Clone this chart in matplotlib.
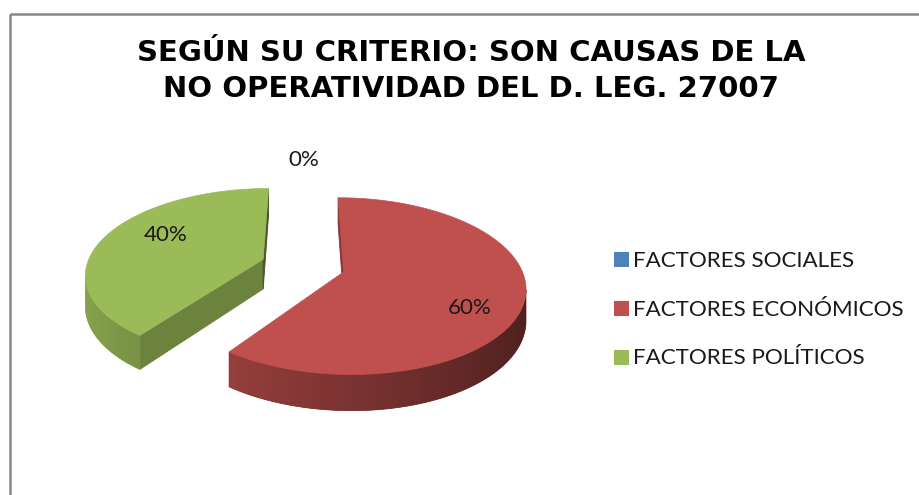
import numpy as np
import matplotlib
matplotlib.use("Agg")
import matplotlib.pyplot as plt
from matplotlib.patches import Polygon, Rectangle
from matplotlib.colors import to_rgb

# ---------------- data ----------------
title_lines = ["SEGÚN SU CRITERIO: SON CAUSAS DE LA",
               "NO OPERATIVIDAD DEL D. LEG. 27007"]
categories = ["FACTORES SOCIALES", "FACTORES ECONÓMICOS", "FACTORES POLÍTICOS"]
values = [0, 60, 40]
colors = ["#4F81BD", "#C0504D", "#9BBB59"]

# ---------------- layout / style ----------------
W, H = 919, 495
CX, CY = 303, 265.5          # pie centre (pixels)
A, B, K, T = 176.5, 84, 0.16, 30   # x radius, y radius, perspective, thickness
EXPLODE = 0.24
label_pos = [(304, 166), (470, 313.5), (166, 241)]   # baseline positions of % labels
LABEL_FONT = "Lato"
FS = 16.1

fig = plt.figure(figsize=(W / 100, H / 100), dpi=100)
ax = fig.add_axes([0, 0, 1, 1])

# chart border (left and top only visible)
ax.plot([9.5, 9.5], [14, H + 5], color="#868686", lw=1.8, solid_capstyle="butt")
ax.plot([9.5, W + 5], [14, 14], color="#868686", lw=1.8, solid_capstyle="butt")


def proj(X, Y, Z=0.0):
    w = 1 + K * Y
    return CX + A * X / w, CY - B * Y / w + T * Z / w


def shade(c, f):
    r, g, b = to_rgb(c)
    return np.array([r * f, g * f, b * f])


def signed_area(pts):
    pts = np.asarray(pts)
    x, y = pts[:, 0], pts[:, 1]
    return 0.5 * np.sum(x * np.roll(y, -1) - np.roll(x, -1) * y)


def side_factor(t):
    return 0.64 - 0.24 * np.sin(t)


total = float(sum(values))
start = 0.0
for val, col in zip(values, colors):
    span = 360.0 * val / total
    a0, a1 = start, start + span
    start = a1
    if span <= 0:
        continue
    mid = np.radians((a0 + a1) / 2)
    ox, oy = EXPLODE * np.sin(mid), EXPLODE * np.cos(mid)
    th = np.radians(np.linspace(a0, a1, max(int(span * 3), 4)))
    rx, ry = ox + np.sin(th), oy + np.cos(th)

    # radial faces
    for idx, is_start in ((0, True), (-1, False)):
        rim_t = proj(rx[idx], ry[idx], 0)
        rim_b = proj(rx[idx], ry[idx], 1)
        c_t = proj(ox, oy, 0)
        c_b = proj(ox, oy, 1)
        quad = [c_t, rim_t, rim_b, c_b] if is_start else [rim_t, c_t, c_b, rim_b]
        if signed_area(quad) < 0:
            fc = shade(col, 0.70 if is_start else 0.45)
            ax.add_patch(Polygon(quad, closed=True, facecolor=fc, edgecolor=fc,
                                 lw=0.6, zorder=2))

    # outer side: visible segment, filled with a horizontal gradient
    vis = []
    for j in range(len(th) - 1):
        quad = [proj(rx[j], ry[j], 0), proj(rx[j + 1], ry[j + 1], 0),
                proj(rx[j + 1], ry[j + 1], 1), proj(rx[j], ry[j], 1)]
        vis.append(signed_area(quad) < 0)
    vis = np.array(vis)
    if vis.any():
        idxs = np.where(vis)[0]
        i0, i1 = idxs.min(), idxs.max() + 1
        tv = th[i0:i1 + 1]
        topp = np.array([proj(rx[j], ry[j], 0) for j in range(i0, i1 + 1)])
        botp = np.array([proj(rx[j], ry[j], 1) for j in range(i0, i1 + 1)])
        poly = np.vstack([topp, botp[::-1]])
        fmid = side_factor(tv.mean())
        patch = Polygon(poly, closed=True, facecolor=shade(col, fmid),
                        edgecolor=shade(col, fmid), lw=0.5, zorder=2)
        ax.add_patch(patch)
        xs = topp[:, 0]
        order = np.argsort(xs)
        xmin, xmax = poly[:, 0].min(), poly[:, 0].max()
        ymin, ymax = poly[:, 1].min(), poly[:, 1].max()
        cols_x = np.linspace(xmin, xmax, int(xmax - xmin) + 2)
        tcol = np.interp(cols_x, xs[order], tv[order])
        img = np.array([shade(col, side_factor(t)) for t in tcol])[None, :, :]
        im = ax.imshow(np.clip(img, 0, 1), extent=(xmin, xmax, ymax, ymin),
                       aspect="auto", interpolation="bilinear", zorder=2.1)
        im.set_clip_path(patch)

    # top face
    top = [proj(ox, oy, 0)] + [proj(x, y, 0) for x, y in zip(rx, ry)]
    ax.add_patch(Polygon(top, closed=True, facecolor=col, edgecolor=col,
                         lw=0.5, zorder=3))

# percentage labels
for val, (lx, ly) in zip(values, label_pos):
    pct = 100.0 * val / total
    ax.text(lx, ly, f"{pct:.0f}%", ha="center", va="baseline",
            fontsize=FS, family=LABEL_FONT, color="#1a1a1a", zorder=5)

# title
for line, by in zip(title_lines, [61, 97]):
    ax.text(471, by, line, ha="center", va="baseline", fontsize=21,
            fontweight="bold", family="DejaVu Sans", color="black")

# legend
leg_y = [267, 316, 364.5]
for cat, col, by in zip(categories, colors, leg_y):
    ax.add_patch(Rectangle((614, by - 15), 15, 15, facecolor=col, edgecolor="none"))
    ax.text(633, by, cat, ha="left", va="baseline", fontsize=FS,
            family=LABEL_FONT, color="#1a1a1a")

ax.set_xlim(0, W)
ax.set_ylim(H, 0)
ax.axis("off")

fig.savefig("out.png", dpi=100)
